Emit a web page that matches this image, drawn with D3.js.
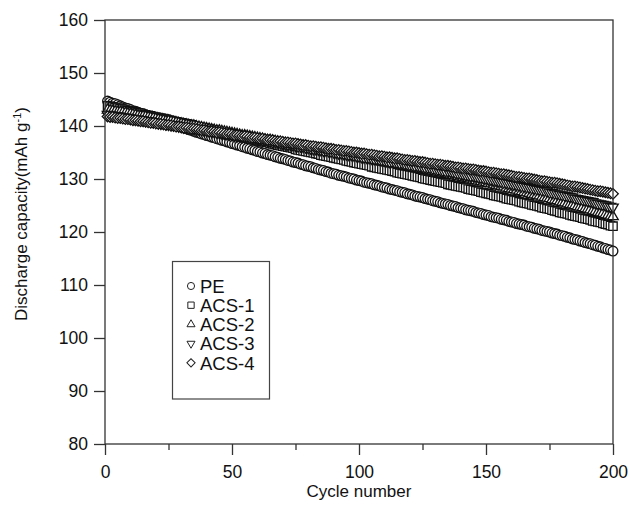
<!DOCTYPE html>
<html>
<head>
<meta charset="utf-8">
<script src="https://cdn.jsdelivr.net/npm/d3@7"></script>
<style>
  body { margin: 0; background: #fff; }
  text { font-family: Arial, "Liberation Sans", sans-serif; fill: #111; }
</style>
</head>
<body>
<div id="chart-area"></div>
<script>

// Data (one value per cycle 1..200)
let cycles = d3.range(1, 201);

let pe = [
144.7,144.5,144.3,144.2,144.0,143.8,143.6,143.4,143.3,143.1,
142.9,142.8,142.6,142.4,142.3,142.1,141.9,141.7,141.6,141.4,
141.2,141.1,140.9,140.8,140.6,140.4,140.3,140.1,140.0,139.8,
139.6,139.5,139.3,139.2,139.0,138.8,138.7,138.5,138.4,138.2,
138.1,137.9,137.8,137.6,137.5,137.3,137.2,137.0,136.9,136.7,
136.6,136.4,136.3,136.1,136.0,135.8,135.7,135.5,135.4,135.2,
135.1,134.9,134.8,134.6,134.5,134.4,134.2,134.1,133.9,133.8,
133.7,133.5,133.4,133.2,133.1,133.0,132.8,132.7,132.5,132.4,
132.3,132.1,132.0,131.8,131.7,131.6,131.4,131.3,131.1,131.0,
130.9,130.7,130.6,130.5,130.4,130.2,130.1,130.0,129.8,129.7,
129.6,129.4,129.3,129.2,129.1,128.9,128.8,128.7,128.5,128.4,
128.3,128.1,128.0,127.9,127.8,127.6,127.5,127.4,127.2,127.1,
127.0,126.8,126.7,126.6,126.5,126.3,126.2,126.1,125.9,125.8,
125.7,125.5,125.4,125.3,125.2,125.0,124.9,124.8,124.6,124.5,
124.4,124.2,124.1,124.0,123.9,123.7,123.6,123.5,123.3,123.2,
123.1,122.9,122.8,122.7,122.6,122.4,122.3,122.2,122.0,121.9,
121.8,121.6,121.5,121.4,121.3,121.1,121.0,120.9,120.7,120.6,
120.5,120.3,120.2,120.1,120.0,119.8,119.7,119.6,119.4,119.3,
119.2,119.0,118.9,118.7,118.6,118.5,118.3,118.2,118.0,117.9,
117.8,117.6,117.5,117.3,117.2,117.0,116.9,116.7,116.6,116.4];

let acs1 = [
143.8,143.7,143.6,143.5,143.4,143.3,143.2,143.0,142.9,142.8,
142.7,142.6,142.5,142.4,142.2,142.1,142.0,141.9,141.8,141.7,
141.6,141.5,141.4,141.3,141.1,141.0,140.9,140.8,140.7,140.6,
140.5,140.4,140.3,140.2,140.0,139.9,139.8,139.7,139.6,139.5,
139.4,139.3,139.2,139.1,138.9,138.8,138.7,138.6,138.5,138.4,
138.3,138.2,138.1,138.0,137.8,137.7,137.6,137.5,137.4,137.3,
137.2,137.1,137.0,136.9,136.7,136.6,136.5,136.4,136.3,136.2,
136.1,136.0,135.9,135.8,135.6,135.5,135.4,135.3,135.2,135.1,
135.0,134.9,134.8,134.7,134.5,134.4,134.3,134.2,134.1,134.0,
133.9,133.8,133.7,133.6,133.4,133.3,133.2,133.1,133.0,132.9,
132.8,132.7,132.6,132.5,132.3,132.2,132.1,132.0,131.9,131.8,
131.7,131.6,131.5,131.4,131.2,131.1,131.0,130.9,130.8,130.7,
130.6,130.5,130.4,130.3,130.1,130.0,129.9,129.8,129.7,129.6,
129.5,129.4,129.3,129.2,129.0,128.9,128.8,128.7,128.6,128.5,
128.4,128.3,128.1,128.0,127.9,127.8,127.7,127.5,127.4,127.3,
127.2,127.1,126.9,126.8,126.7,126.6,126.5,126.3,126.2,126.1,
126.0,125.9,125.7,125.6,125.5,125.4,125.3,125.1,125.0,124.9,
124.8,124.6,124.5,124.4,124.3,124.1,124.0,123.9,123.7,123.6,
123.5,123.4,123.2,123.1,123.0,122.9,122.8,122.6,122.5,122.4,
122.3,122.1,122.0,121.9,121.8,121.6,121.5,121.4,121.2,121.1];

let acs2 = [
143.0,142.9,142.8,142.7,142.6,142.6,142.5,142.4,142.3,142.2,
142.1,142.0,141.9,141.8,141.8,141.7,141.6,141.5,141.4,141.3,
141.2,141.1,141.0,140.9,140.9,140.8,140.7,140.6,140.5,140.4,
140.3,140.2,140.1,140.0,140.0,139.9,139.8,139.7,139.6,139.5,
139.4,139.3,139.2,139.1,139.1,139.0,138.9,138.8,138.7,138.6,
138.5,138.4,138.3,138.2,138.2,138.1,138.0,137.9,137.8,137.7,
137.6,137.5,137.4,137.3,137.3,137.2,137.1,137.0,136.9,136.8,
136.7,136.6,136.5,136.4,136.4,136.3,136.2,136.1,136.0,135.9,
135.8,135.7,135.6,135.5,135.5,135.4,135.3,135.2,135.1,135.0,
134.9,134.8,134.7,134.6,134.6,134.5,134.4,134.3,134.2,134.1,
134.0,133.9,133.8,133.7,133.7,133.6,133.5,133.4,133.3,133.2,
133.1,133.0,132.9,132.8,132.8,132.7,132.6,132.5,132.4,132.3,
132.2,132.1,132.0,131.9,131.9,131.8,131.7,131.6,131.5,131.4,
131.3,131.2,131.1,131.0,130.9,130.8,130.7,130.6,130.5,130.4,
130.3,130.2,130.1,130.0,129.8,129.7,129.6,129.5,129.4,129.3,
129.2,129.1,128.9,128.8,128.7,128.6,128.5,128.3,128.2,128.1,
128.0,127.9,127.7,127.6,127.5,127.4,127.3,127.1,127.0,126.9,
126.8,126.6,126.5,126.4,126.3,126.1,126.0,125.9,125.7,125.6,
125.5,125.3,125.2,125.1,125.0,124.8,124.7,124.6,124.4,124.3,
124.2,124.0,123.9,123.7,123.6,123.5,123.3,123.2,123.0,122.9];

let acs3 = [
142.2,142.1,142.0,141.9,141.9,141.8,141.7,141.6,141.6,141.5,
141.4,141.3,141.3,141.2,141.1,141.0,141.0,140.9,140.8,140.7,
140.6,140.5,140.5,140.4,140.3,140.2,140.2,140.1,140.0,139.9,
139.8,139.7,139.7,139.6,139.5,139.4,139.4,139.3,139.2,139.1,
139.0,138.9,138.9,138.8,138.7,138.6,138.6,138.5,138.4,138.3,
138.2,138.1,138.1,138.0,137.9,137.8,137.8,137.7,137.6,137.5,
137.4,137.3,137.3,137.2,137.1,137.0,137.0,136.9,136.8,136.7,
136.6,136.5,136.5,136.4,136.3,136.2,136.2,136.1,136.0,135.9,
135.8,135.7,135.7,135.6,135.5,135.4,135.4,135.3,135.2,135.1,
135.0,134.9,134.9,134.8,134.7,134.6,134.6,134.5,134.4,134.3,
134.2,134.1,134.1,134.0,133.9,133.8,133.8,133.7,133.6,133.5,
133.4,133.3,133.3,133.2,133.1,133.0,133.0,132.9,132.8,132.7,
132.6,132.5,132.5,132.4,132.3,132.2,132.2,132.1,132.0,131.9,
131.8,131.7,131.6,131.5,131.5,131.4,131.3,131.2,131.1,131.0,
130.9,130.8,130.7,130.6,130.6,130.5,130.4,130.3,130.2,130.1,
130.0,129.9,129.8,129.7,129.6,129.5,129.4,129.3,129.2,129.1,
129.0,128.9,128.8,128.7,128.6,128.5,128.4,128.3,128.2,128.1,
128.0,127.9,127.8,127.7,127.5,127.4,127.3,127.2,127.1,127.0,
126.9,126.8,126.7,126.6,126.4,126.3,126.2,126.1,126.0,125.9,
125.8,125.7,125.5,125.4,125.3,125.2,125.1,124.9,124.8,124.7];

let acs4 = [
141.8,141.7,141.7,141.6,141.5,141.5,141.4,141.3,141.3,141.2,
141.1,141.1,141.0,140.9,140.9,140.8,140.7,140.6,140.6,140.5,
140.4,140.4,140.3,140.2,140.2,140.1,140.0,139.9,139.9,139.8,
139.7,139.7,139.6,139.5,139.5,139.4,139.3,139.2,139.2,139.1,
139.0,139.0,138.9,138.8,138.8,138.7,138.6,138.5,138.5,138.4,
138.3,138.3,138.2,138.1,138.1,138.0,137.9,137.8,137.8,137.7,
137.6,137.6,137.5,137.4,137.4,137.3,137.2,137.1,137.1,137.0,
136.9,136.9,136.8,136.7,136.7,136.6,136.5,136.4,136.4,136.3,
136.2,136.2,136.1,136.0,136.0,135.9,135.8,135.7,135.7,135.6,
135.5,135.5,135.4,135.3,135.3,135.2,135.1,135.0,135.0,134.9,
134.8,134.8,134.7,134.6,134.6,134.5,134.4,134.3,134.3,134.2,
134.1,134.1,134.0,133.9,133.9,133.8,133.7,133.6,133.6,133.5,
133.4,133.4,133.3,133.2,133.2,133.1,133.0,132.9,132.9,132.8,
132.7,132.7,132.6,132.5,132.5,132.4,132.3,132.2,132.2,132.1,
132.0,132.0,131.9,131.8,131.8,131.7,131.6,131.5,131.5,131.4,
131.3,131.2,131.2,131.1,131.0,130.9,130.9,130.8,130.7,130.6,
130.5,130.4,130.4,130.3,130.2,130.1,130.1,130.0,129.9,129.8,
129.7,129.6,129.6,129.5,129.4,129.3,129.3,129.2,129.1,129.0,
128.9,128.8,128.7,128.6,128.6,128.5,128.4,128.3,128.2,128.1,
128.0,127.9,127.8,127.7,127.7,127.6,127.5,127.4,127.3,127.2];

let seriesNames = ["PE", "ACS-1", "ACS-2", "ACS-3", "ACS-4"];
let seriesValues = [pe, acs1, acs2, acs3, acs4];
let xTicks = [0, 50, 100, 150, 200];
let xMinorTicks = [25, 75, 125, 175];
let yTicks = [80, 90, 100, 110, 120, 130, 140, 150, 160];

// SVG drawing area
let margin = {top: 20, right: 18, bottom: 67, left: 105};
let width = 631 - margin.left - margin.right,
    height = 511 - margin.top - margin.bottom;

let svg = d3.select("#chart-area").append("svg")
    .attr("width", 631)
    .attr("height", 511)
    .append("g")
    .attr("transform", "translate(" + margin.left + "," + margin.top + ")");

// Scales
let x = d3.scaleLinear().domain([0, 200]).range([0, width]);
let y = d3.scaleLinear().domain([80, 160]).range([height, 0]);

// symbol shapes
let shapes = [
  {type: d3.symbolCircle, rot: 0, size: 74},
  {type: d3.symbolSquare, rot: 0, size: 70},
  {type: d3.symbolTriangle, rot: 0, size: 48},
  {type: d3.symbolTriangle, rot: 180, size: 48},
  {type: d3.symbolSquare, rot: 45, size: 56}
];

// markers
seriesValues.forEach((vals, i) => {
  let sh = shapes[i];
  let path = d3.symbol().type(sh.type).size(sh.size)();
  svg.append("g")
    .selectAll("path")
    .data(vals)
    .enter()
    .append("path")
    .attr("d", path)
    .attr("transform", (d, j) => "translate(" + x(cycles[j]) + "," + y(d) + ") rotate(" + sh.rot + ")")
    .attr("fill", "#fff")
    .attr("stroke", "#111")
    .attr("stroke-width", 1.3);
});

// frame
svg.append("rect")
  .attr("width", width)
  .attr("height", height)
  .attr("fill", "none")
  .attr("stroke", "#333")
  .attr("stroke-width", 1.3);

// axes
let xAxis = d3.axisBottom(x).tickValues(xTicks).tickSize(11).tickPadding(11);
let xMinor = d3.axisBottom(x).tickValues(xMinorTicks).tickSize(6).tickFormat("");
let yAxis = d3.axisLeft(y).tickValues(yTicks).tickSize(11).tickPadding(6);

function styleAxis(g) {
  g.select(".domain").remove();
  g.selectAll("line").attr("stroke", "#333").attr("stroke-width", 1.3);
  g.selectAll("text").style("font-size", "17.5px").attr("fill", "#111")
    .style("font-family", "Arial, 'Liberation Sans', sans-serif");
}

svg.append("g").attr("transform", "translate(0," + height + ")").call(xAxis).call(styleAxis);
svg.append("g").attr("transform", "translate(0," + height + ")").call(xMinor).call(styleAxis);
svg.append("g").call(yAxis).call(styleAxis);

// axis titles
svg.append("text")
  .attr("x", width / 2)
  .attr("y", height + 53)
  .attr("text-anchor", "middle")
  .style("font-size", "17px")
  .text("Cycle number");

let yl = svg.append("text")
  .attr("transform", "translate(" + (-78) + "," + 194 + ") rotate(-90)")
  .attr("text-anchor", "middle")
  .style("font-size", "17px");
yl.append("tspan").text("Discharge capacity(mAh g");
yl.append("tspan").attr("dy", -6).style("font-size", "11px").text("-1");
yl.append("tspan").attr("dy", 6).text(")");

// legend
let legend = svg.append("g").attr("transform", "translate(" + (172.5 - margin.left) + "," + (261.5 - margin.top) + ")");
legend.append("rect")
  .attr("width", 97)
  .attr("height", 137.5)
  .attr("fill", "#fff")
  .attr("stroke", "#444")
  .attr("stroke-width", 1.2);

let legendShapes = [
  {type: d3.symbolCircle, rot: 0, size: 40},
  {type: d3.symbolSquare, rot: 0, size: 40},
  {type: d3.symbolTriangle, rot: 0, size: 28},
  {type: d3.symbolTriangle, rot: 180, size: 28},
  {type: d3.symbolSquare, rot: 45, size: 34}
];

seriesNames.forEach((name, i) => {
  let row = legend.append("g").attr("transform", "translate(0," + (24.5 + i * 19.2) + ")");
  row.append("path")
    .attr("d", d3.symbol().type(legendShapes[i].type).size(legendShapes[i].size)())
    .attr("transform", "translate(18.5,0) rotate(" + legendShapes[i].rot + ")")
    .attr("fill", "#fff")
    .attr("stroke", "#222")
    .attr("stroke-width", 1);
  row.append("text")
    .attr("x", 27.5)
    .attr("y", 6.8)
    .style("font-size", "18.5px")
    .text(name);
});

</script>
</body>
</html>
